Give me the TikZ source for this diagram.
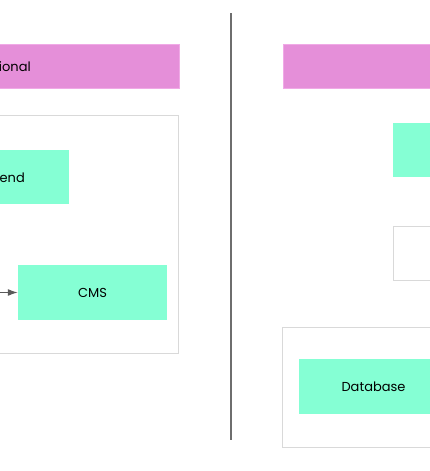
\documentclass[tikz,border=0pt]{standalone}
\usepackage{fontspec}
\setmainfont{Poppins}
\usetikzlibrary{arrows.meta, positioning}

\definecolor{hdrpink}{RGB}{229,143,217}
\definecolor{hdredge}{RGB}{240,170,230}
\definecolor{boxgreen}{RGB}{133,255,212}
\definecolor{framegray}{RGB}{217,217,217}
\definecolor{linegray}{RGB}{110,110,110}
\definecolor{arrowgray}{RGB}{90,90,90}

\begin{document}
\begin{tikzpicture}[
            x=1pt, y=1pt,
            >={Latex[length=10pt, width=7pt]},
            header/.style={rectangle, fill=hdrpink, draw=hdredge, minimum height=44pt, inner sep=0pt},
            block/.style={rectangle, fill=boxgreen, minimum height=55pt, inner sep=0pt, font=\fontsize{13}{15}\selectfont},
            frame/.style={rectangle, draw=framegray, line width=1pt, fill=white, inner sep=0pt},
            caption/.style={inner sep=0pt, font=\fontsize{13}{15}\selectfont}
        ]
            \useasboundingbox (0,0) rectangle (430,-471);
            \clip (0,0) rectangle (430,-471);

            % left half
            \node (hdrL) [header, anchor=east, minimum width=220pt] at (179,-66) {};
            \node (hdrLtext) [caption, anchor=east] at (31,-67) {ional};
            \node (frameL) [frame, anchor=north east, minimum width=220pt, minimum height=238pt] at (179,-115) {};
            \node (front) [block, anchor=east, minimum width=120pt, minimum height=54pt] at (69,-177) {};
            \node (fronttext) [caption, anchor=east] at (25,-178) {end};
            \node (cms) [block, minimum width=149pt] at (92.5,-292.5) {CMS};
            \coordinate (inL) at (-5,-292.5);

            \draw[->, arrowgray, line width=1.3pt] (inL) -- (cms.west);

            % divider
            \coordinate (divtop) at (231,-13);
            \coordinate (divbot) at (231,-440);
            \draw[linegray, line width=1.3pt] (divtop) -- (divbot);

            % right half
            \node (hdrR) [header, anchor=west, minimum width=180pt] at (283,-66) {};
            \node (apiR) [block, anchor=north west, minimum width=60pt, minimum height=54pt] at (393,-123) {};
            \node (emptyR) [frame, anchor=north west, minimum width=60pt, minimum height=54pt] at (393,-226) {};
            \node (frameR) [frame, anchor=north west, minimum width=180pt, minimum height=120pt] at (282,-327) {};
            \node (db) [block, minimum width=149pt] at (373.5,-386.5) {Database};
        \end{tikzpicture}
\end{document}
